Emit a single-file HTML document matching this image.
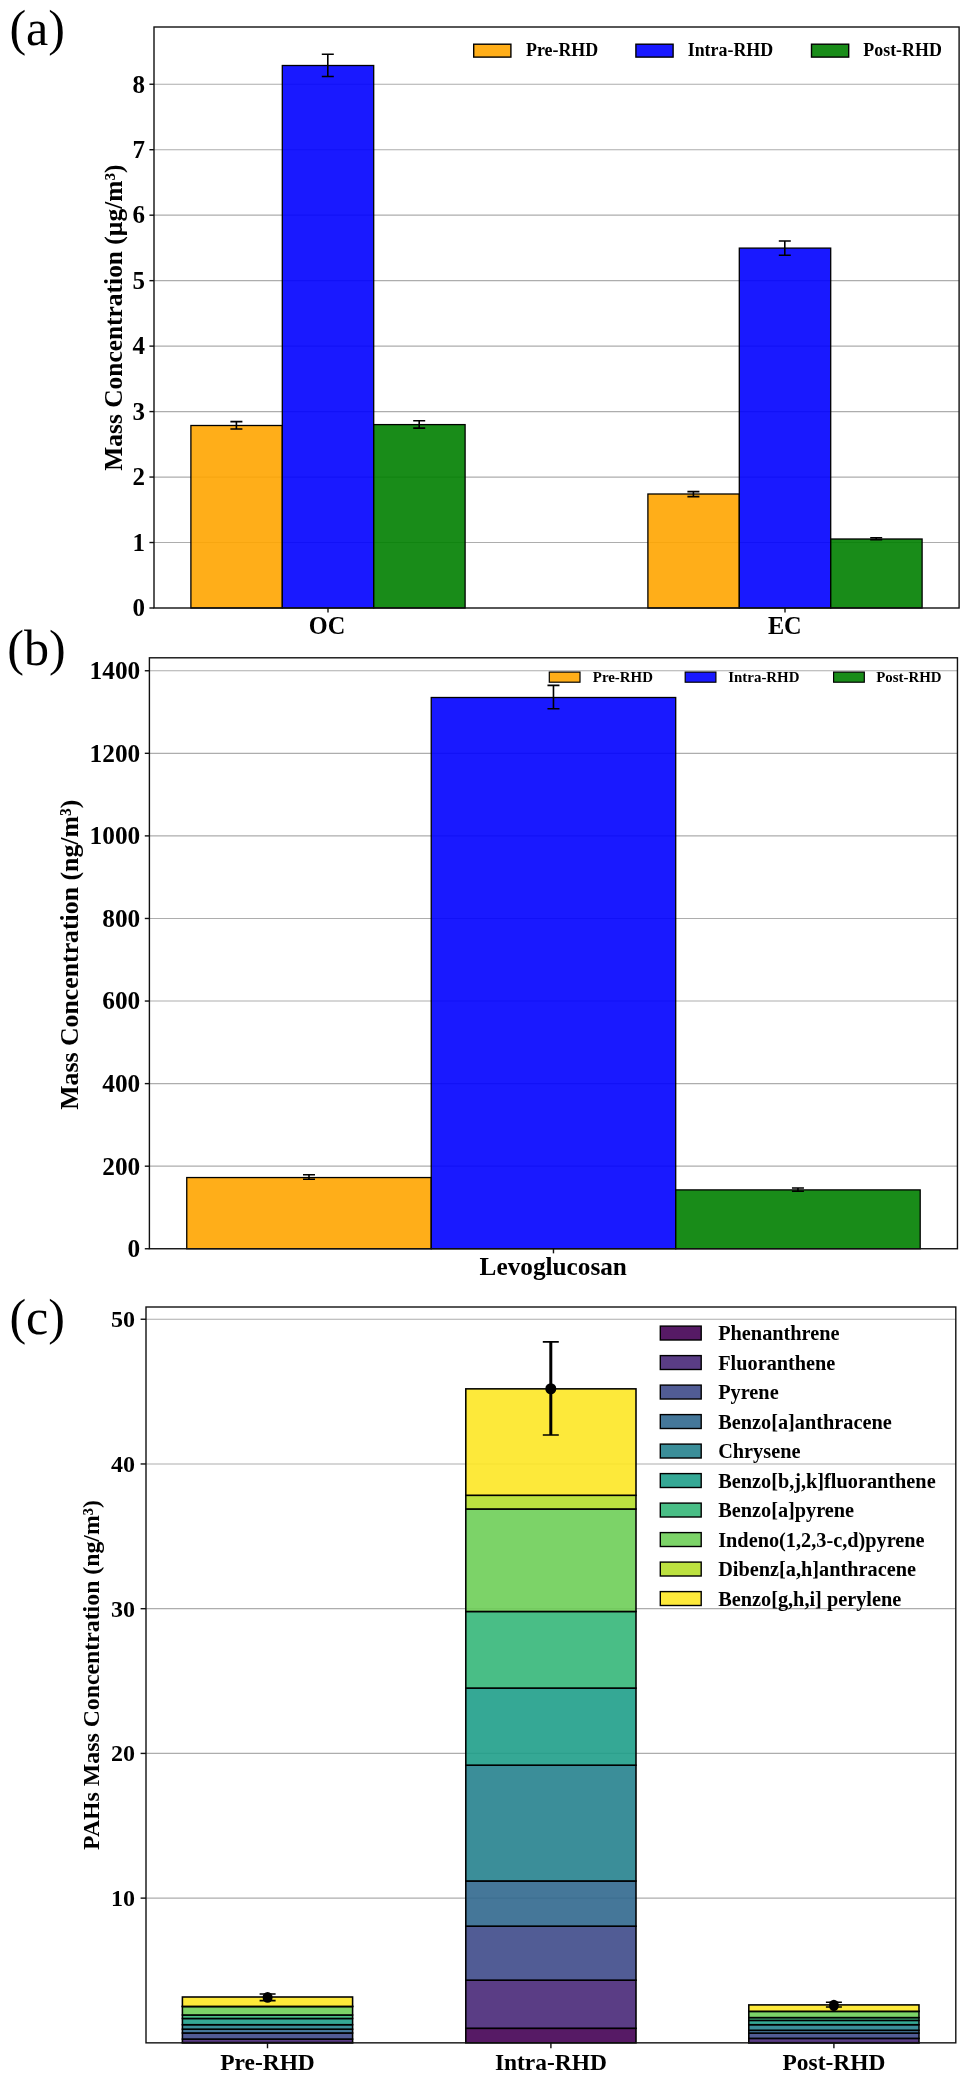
<!DOCTYPE html>
<html><head><meta charset="utf-8"><title>Figure</title>
<style>
html,body{margin:0;padding:0;background:#fff;}
body{width:968px;height:2080px;overflow:hidden;}
svg{display:block;will-change:transform;}
svg text{font-family:'Liberation Serif', serif;fill:#000;}
</style></head><body>
<svg width="968" height="2080" viewBox="0 0 968 2080">
<rect x="0" y="0" width="968" height="2080" fill="#fff"/>
<line x1="154.0" x2="959.1" y1="542.53" y2="542.53" stroke="#adadad" stroke-width="1.15"/>
<line x1="154.0" x2="959.1" y1="477.06" y2="477.06" stroke="#adadad" stroke-width="1.15"/>
<line x1="154.0" x2="959.1" y1="411.59" y2="411.59" stroke="#adadad" stroke-width="1.15"/>
<line x1="154.0" x2="959.1" y1="346.12" y2="346.12" stroke="#adadad" stroke-width="1.15"/>
<line x1="154.0" x2="959.1" y1="280.65" y2="280.65" stroke="#adadad" stroke-width="1.15"/>
<line x1="154.0" x2="959.1" y1="215.18" y2="215.18" stroke="#adadad" stroke-width="1.15"/>
<line x1="154.0" x2="959.1" y1="149.71" y2="149.71" stroke="#adadad" stroke-width="1.15"/>
<line x1="154.0" x2="959.1" y1="84.24" y2="84.24" stroke="#adadad" stroke-width="1.15"/>
<rect x="190.90" y="425.50" width="91.40" height="182.50" fill="#ffa500" fill-opacity="0.9" stroke="#000" stroke-width="1.3"/>
<rect x="282.30" y="65.50" width="91.40" height="542.50" fill="#0000ff" fill-opacity="0.9" stroke="#000" stroke-width="1.3"/>
<rect x="373.70" y="424.60" width="91.40" height="183.40" fill="#008000" fill-opacity="0.9" stroke="#000" stroke-width="1.3"/>
<path d="M236.40 421.60V429.00M230.40 421.60H242.40M230.40 429.00H242.40" stroke="#000" stroke-width="1.6" fill="none"/>
<path d="M327.80 54.20V76.50M321.80 54.20H333.80M321.80 76.50H333.80" stroke="#000" stroke-width="1.6" fill="none"/>
<path d="M419.20 420.70V428.10M413.20 420.70H425.20M413.20 428.10H425.20" stroke="#000" stroke-width="1.6" fill="none"/>
<rect x="647.90" y="494.00" width="91.40" height="114.00" fill="#ffa500" fill-opacity="0.9" stroke="#000" stroke-width="1.3"/>
<rect x="739.30" y="248.10" width="91.40" height="359.90" fill="#0000ff" fill-opacity="0.9" stroke="#000" stroke-width="1.3"/>
<rect x="830.70" y="539.00" width="91.40" height="69.00" fill="#008000" fill-opacity="0.9" stroke="#000" stroke-width="1.3"/>
<path d="M693.40 491.60V496.60M687.40 491.60H699.40M687.40 496.60H699.40" stroke="#000" stroke-width="1.6" fill="none"/>
<path d="M784.80 241.00V255.30M778.80 241.00H790.80M778.80 255.30H790.80" stroke="#000" stroke-width="1.6" fill="none"/>
<path d="M876.20 537.80V539.80M870.20 537.80H882.20M870.20 539.80H882.20" stroke="#000" stroke-width="1.6" fill="none"/>
<rect x="154.0" y="27.0" width="805.10" height="581.00" fill="none" stroke="#111" stroke-width="1.4"/>
<line x1="149.4" x2="154.0" y1="608.00" y2="608.00" stroke="#111" stroke-width="1.4"/>
<text x="144.90" y="616.30" font-size="25" font-weight="bold" text-anchor="end" >0</text>
<line x1="149.4" x2="154.0" y1="542.53" y2="542.53" stroke="#111" stroke-width="1.4"/>
<text x="144.90" y="550.83" font-size="25" font-weight="bold" text-anchor="end" >1</text>
<line x1="149.4" x2="154.0" y1="477.06" y2="477.06" stroke="#111" stroke-width="1.4"/>
<text x="144.90" y="485.36" font-size="25" font-weight="bold" text-anchor="end" >2</text>
<line x1="149.4" x2="154.0" y1="411.59" y2="411.59" stroke="#111" stroke-width="1.4"/>
<text x="144.90" y="419.89" font-size="25" font-weight="bold" text-anchor="end" >3</text>
<line x1="149.4" x2="154.0" y1="346.12" y2="346.12" stroke="#111" stroke-width="1.4"/>
<text x="144.90" y="354.42" font-size="25" font-weight="bold" text-anchor="end" >4</text>
<line x1="149.4" x2="154.0" y1="280.65" y2="280.65" stroke="#111" stroke-width="1.4"/>
<text x="144.90" y="288.95" font-size="25" font-weight="bold" text-anchor="end" >5</text>
<line x1="149.4" x2="154.0" y1="215.18" y2="215.18" stroke="#111" stroke-width="1.4"/>
<text x="144.90" y="223.48" font-size="25" font-weight="bold" text-anchor="end" >6</text>
<line x1="149.4" x2="154.0" y1="149.71" y2="149.71" stroke="#111" stroke-width="1.4"/>
<text x="144.90" y="158.01" font-size="25" font-weight="bold" text-anchor="end" >7</text>
<line x1="149.4" x2="154.0" y1="84.24" y2="84.24" stroke="#111" stroke-width="1.4"/>
<text x="144.90" y="92.54" font-size="25" font-weight="bold" text-anchor="end" >8</text>
<line x1="328.00" x2="328.00" y1="608.0" y2="612.6" stroke="#111" stroke-width="1.4"/>
<text x="327.10" y="634.00" font-size="24.3" font-weight="bold" text-anchor="middle" >OC</text>
<line x1="785.00" x2="785.00" y1="608.0" y2="612.6" stroke="#111" stroke-width="1.4"/>
<text x="784.80" y="634.00" font-size="24.3" font-weight="bold" text-anchor="middle" >EC</text>
<text transform="translate(122.00 317.60) rotate(-90)" font-size="25.45" font-weight="bold" text-anchor="middle" >Mass Concentration (µg/m³)</text>
<rect x="473.7" y="44.2" width="37.2" height="12.9" fill="#ffa500" fill-opacity="0.9" stroke="#000" stroke-width="1.4"/>
<text x="526.00" y="56.20" font-size="17.9" font-weight="bold" text-anchor="start" >Pre-RHD</text>
<rect x="635.9" y="44.2" width="37.2" height="12.9" fill="#0000ff" fill-opacity="0.9" stroke="#000" stroke-width="1.4"/>
<text x="687.70" y="56.20" font-size="17.9" font-weight="bold" text-anchor="start" >Intra-RHD</text>
<rect x="811.5" y="44.2" width="37.2" height="12.9" fill="#008000" fill-opacity="0.9" stroke="#000" stroke-width="1.4"/>
<text x="863.30" y="56.20" font-size="17.9" font-weight="bold" text-anchor="start" >Post-RHD</text>
<text x="9.40" y="45.20" font-size="51" font-weight="normal" text-anchor="start" textLength="55.6" lengthAdjust="spacingAndGlyphs">(a)</text>
<line x1="149.4" x2="957.45" y1="1166.18" y2="1166.18" stroke="#adadad" stroke-width="1.15"/>
<line x1="149.4" x2="957.45" y1="1083.61" y2="1083.61" stroke="#adadad" stroke-width="1.15"/>
<line x1="149.4" x2="957.45" y1="1001.04" y2="1001.04" stroke="#adadad" stroke-width="1.15"/>
<line x1="149.4" x2="957.45" y1="918.47" y2="918.47" stroke="#adadad" stroke-width="1.15"/>
<line x1="149.4" x2="957.45" y1="835.89" y2="835.89" stroke="#adadad" stroke-width="1.15"/>
<line x1="149.4" x2="957.45" y1="753.32" y2="753.32" stroke="#adadad" stroke-width="1.15"/>
<line x1="149.4" x2="957.45" y1="670.75" y2="670.75" stroke="#adadad" stroke-width="1.15"/>
<rect x="186.75" y="1177.55" width="244.48" height="71.20" fill="#ffa500" fill-opacity="0.9" stroke="#000" stroke-width="1.3"/>
<rect x="431.23" y="697.50" width="244.48" height="551.25" fill="#0000ff" fill-opacity="0.9" stroke="#000" stroke-width="1.3"/>
<rect x="675.71" y="1189.90" width="244.48" height="58.85" fill="#008000" fill-opacity="0.9" stroke="#000" stroke-width="1.3"/>
<path d="M308.99 1174.80V1179.20M302.99 1174.80H314.99M302.99 1179.20H314.99" stroke="#000" stroke-width="1.6" fill="none"/>
<path d="M553.47 685.40V708.80M547.47 685.40H559.47M547.47 708.80H559.47" stroke="#000" stroke-width="1.6" fill="none"/>
<path d="M797.95 1188.00V1191.20M791.95 1188.00H803.95M791.95 1191.20H803.95" stroke="#000" stroke-width="1.6" fill="none"/>
<rect x="149.4" y="657.8" width="808.05" height="590.95" fill="none" stroke="#111" stroke-width="1.4"/>
<line x1="144.8" x2="149.4" y1="1248.75" y2="1248.75" stroke="#111" stroke-width="1.4"/>
<text x="140.20" y="1257.15" font-size="25.3" font-weight="bold" text-anchor="end" >0</text>
<line x1="144.8" x2="149.4" y1="1166.18" y2="1166.18" stroke="#111" stroke-width="1.4"/>
<text x="140.20" y="1174.58" font-size="25.3" font-weight="bold" text-anchor="end" >200</text>
<line x1="144.8" x2="149.4" y1="1083.61" y2="1083.61" stroke="#111" stroke-width="1.4"/>
<text x="140.20" y="1092.01" font-size="25.3" font-weight="bold" text-anchor="end" >400</text>
<line x1="144.8" x2="149.4" y1="1001.04" y2="1001.04" stroke="#111" stroke-width="1.4"/>
<text x="140.20" y="1009.44" font-size="25.3" font-weight="bold" text-anchor="end" >600</text>
<line x1="144.8" x2="149.4" y1="918.47" y2="918.47" stroke="#111" stroke-width="1.4"/>
<text x="140.20" y="926.87" font-size="25.3" font-weight="bold" text-anchor="end" >800</text>
<line x1="144.8" x2="149.4" y1="835.89" y2="835.89" stroke="#111" stroke-width="1.4"/>
<text x="140.20" y="844.29" font-size="25.3" font-weight="bold" text-anchor="end" >1000</text>
<line x1="144.8" x2="149.4" y1="753.32" y2="753.32" stroke="#111" stroke-width="1.4"/>
<text x="140.20" y="761.72" font-size="25.3" font-weight="bold" text-anchor="end" >1200</text>
<line x1="144.8" x2="149.4" y1="670.75" y2="670.75" stroke="#111" stroke-width="1.4"/>
<text x="140.20" y="679.15" font-size="25.3" font-weight="bold" text-anchor="end" >1400</text>
<line x1="553.47" x2="553.47" y1="1248.75" y2="1253.35" stroke="#111" stroke-width="1.4"/>
<text x="553.27" y="1275.00" font-size="25.25" font-weight="bold" text-anchor="middle" >Levoglucosan</text>
<text transform="translate(77.70 954.80) rotate(-90)" font-size="25.8" font-weight="bold" text-anchor="middle" >Mass Concentration (ng/m³)</text>
<rect x="549.3000000000001" y="672.1" width="30.7" height="10.1" fill="#ffa500" fill-opacity="0.9" stroke="#000" stroke-width="1.2"/>
<text x="592.80" y="682.30" font-size="14.9" font-weight="bold" text-anchor="start" >Pre-RHD</text>
<rect x="685.2" y="672.1" width="30.7" height="10.1" fill="#0000ff" fill-opacity="0.9" stroke="#000" stroke-width="1.2"/>
<text x="728.30" y="682.30" font-size="14.9" font-weight="bold" text-anchor="start" >Intra-RHD</text>
<rect x="833.6" y="672.1" width="30.7" height="10.1" fill="#008000" fill-opacity="0.9" stroke="#000" stroke-width="1.2"/>
<text x="876.20" y="682.30" font-size="14.9" font-weight="bold" text-anchor="start" >Post-RHD</text>
<text x="7.30" y="664.50" font-size="51" font-weight="normal" text-anchor="start" textLength="58.4" lengthAdjust="spacingAndGlyphs">(b)</text>
<line x1="146.0" x2="955.8" y1="1898.13" y2="1898.13" stroke="#adadad" stroke-width="1.15"/>
<line x1="146.0" x2="955.8" y1="1753.41" y2="1753.41" stroke="#adadad" stroke-width="1.15"/>
<line x1="146.0" x2="955.8" y1="1608.69" y2="1608.69" stroke="#adadad" stroke-width="1.15"/>
<line x1="146.0" x2="955.8" y1="1463.97" y2="1463.97" stroke="#adadad" stroke-width="1.15"/>
<line x1="146.0" x2="955.8" y1="1319.25" y2="1319.25" stroke="#adadad" stroke-width="1.15"/>
<rect x="182.40" y="2042.60" width="170.20" height="0.25" fill="#440154" fill-opacity="0.9" stroke="#000" stroke-width="1.55"/>
<rect x="182.40" y="2039.10" width="170.20" height="3.50" fill="#482878" fill-opacity="0.9" stroke="#000" stroke-width="1.55"/>
<rect x="182.40" y="2033.00" width="170.20" height="6.10" fill="#3e4a89" fill-opacity="0.9" stroke="#000" stroke-width="1.55"/>
<rect x="182.40" y="2029.20" width="170.20" height="3.80" fill="#31688e" fill-opacity="0.9" stroke="#000" stroke-width="1.55"/>
<rect x="182.40" y="2024.70" width="170.20" height="4.50" fill="#26828e" fill-opacity="0.9" stroke="#000" stroke-width="1.55"/>
<rect x="182.40" y="2018.50" width="170.20" height="6.20" fill="#1f9e89" fill-opacity="0.9" stroke="#000" stroke-width="1.55"/>
<rect x="182.40" y="2015.00" width="170.20" height="3.50" fill="#35b779" fill-opacity="0.9" stroke="#000" stroke-width="1.55"/>
<rect x="182.40" y="2006.50" width="170.20" height="8.50" fill="#6ece58" fill-opacity="0.9" stroke="#000" stroke-width="1.55"/>
<rect x="182.40" y="2006.40" width="170.20" height="0.10" fill="#b5de2b" fill-opacity="0.9" stroke="#000" stroke-width="1.55"/>
<rect x="182.40" y="1997.00" width="170.20" height="9.40" fill="#fde725" fill-opacity="0.9" stroke="#000" stroke-width="1.55"/>
<rect x="465.80" y="2028.30" width="170.20" height="14.55" fill="#440154" fill-opacity="0.9" stroke="#000" stroke-width="1.55"/>
<rect x="465.80" y="1980.20" width="170.20" height="48.10" fill="#482878" fill-opacity="0.9" stroke="#000" stroke-width="1.55"/>
<rect x="465.80" y="1926.20" width="170.20" height="54.00" fill="#3e4a89" fill-opacity="0.9" stroke="#000" stroke-width="1.55"/>
<rect x="465.80" y="1881.00" width="170.20" height="45.20" fill="#31688e" fill-opacity="0.9" stroke="#000" stroke-width="1.55"/>
<rect x="465.80" y="1765.20" width="170.20" height="115.80" fill="#26828e" fill-opacity="0.9" stroke="#000" stroke-width="1.55"/>
<rect x="465.80" y="1688.10" width="170.20" height="77.10" fill="#1f9e89" fill-opacity="0.9" stroke="#000" stroke-width="1.55"/>
<rect x="465.80" y="1611.50" width="170.20" height="76.60" fill="#35b779" fill-opacity="0.9" stroke="#000" stroke-width="1.55"/>
<rect x="465.80" y="1509.00" width="170.20" height="102.50" fill="#6ece58" fill-opacity="0.9" stroke="#000" stroke-width="1.55"/>
<rect x="465.80" y="1495.30" width="170.20" height="13.70" fill="#b5de2b" fill-opacity="0.9" stroke="#000" stroke-width="1.55"/>
<rect x="465.80" y="1388.85" width="170.20" height="106.45" fill="#fde725" fill-opacity="0.9" stroke="#000" stroke-width="1.55"/>
<rect x="748.80" y="2042.70" width="170.20" height="0.15" fill="#440154" fill-opacity="0.9" stroke="#000" stroke-width="1.55"/>
<rect x="748.80" y="2038.40" width="170.20" height="4.30" fill="#482878" fill-opacity="0.9" stroke="#000" stroke-width="1.55"/>
<rect x="748.80" y="2033.10" width="170.20" height="5.30" fill="#3e4a89" fill-opacity="0.9" stroke="#000" stroke-width="1.55"/>
<rect x="748.80" y="2030.30" width="170.20" height="2.80" fill="#31688e" fill-opacity="0.9" stroke="#000" stroke-width="1.55"/>
<rect x="748.80" y="2024.70" width="170.20" height="5.60" fill="#26828e" fill-opacity="0.9" stroke="#000" stroke-width="1.55"/>
<rect x="748.80" y="2020.40" width="170.20" height="4.30" fill="#1f9e89" fill-opacity="0.9" stroke="#000" stroke-width="1.55"/>
<rect x="748.80" y="2017.60" width="170.20" height="2.80" fill="#35b779" fill-opacity="0.9" stroke="#000" stroke-width="1.55"/>
<rect x="748.80" y="2011.40" width="170.20" height="6.20" fill="#6ece58" fill-opacity="0.9" stroke="#000" stroke-width="1.55"/>
<rect x="748.80" y="2011.30" width="170.20" height="0.10" fill="#b5de2b" fill-opacity="0.9" stroke="#000" stroke-width="1.55"/>
<rect x="748.80" y="2004.90" width="170.20" height="6.40" fill="#fde725" fill-opacity="0.9" stroke="#000" stroke-width="1.55"/>
<path d="M267.60 1994.00V2000.60" stroke="#000" stroke-width="3.0" fill="none"/>
<path d="M259.60 1994.00H275.60M259.60 2000.60H275.60" stroke="#000" stroke-width="1.6" fill="none"/>
<ellipse cx="267.60" cy="1997.40" rx="5.0" ry="5.4" fill="#000"/>
<path d="M550.80 1341.90V1434.95" stroke="#000" stroke-width="3.0" fill="none"/>
<path d="M542.80 1341.90H558.80M542.80 1434.95H558.80" stroke="#000" stroke-width="1.6" fill="none"/>
<ellipse cx="550.80" cy="1388.75" rx="5.5" ry="5.5" fill="#000"/>
<path d="M833.90 2002.30V2007.00" stroke="#000" stroke-width="3.0" fill="none"/>
<path d="M825.90 2002.30H841.90M825.90 2007.00H841.90" stroke="#000" stroke-width="1.6" fill="none"/>
<ellipse cx="833.90" cy="2005.40" rx="4.9" ry="5.7" fill="#000"/>
<rect x="146.0" y="1307.0" width="809.80" height="735.85" fill="none" stroke="#111" stroke-width="1.4"/>
<line x1="140.6" x2="146.0" y1="1898.13" y2="1898.13" stroke="#111" stroke-width="1.4"/>
<text x="134.90" y="1906.13" font-size="24.0" font-weight="bold" text-anchor="end" >10</text>
<line x1="140.6" x2="146.0" y1="1753.41" y2="1753.41" stroke="#111" stroke-width="1.4"/>
<text x="134.90" y="1761.41" font-size="24.0" font-weight="bold" text-anchor="end" >20</text>
<line x1="140.6" x2="146.0" y1="1608.69" y2="1608.69" stroke="#111" stroke-width="1.4"/>
<text x="134.90" y="1616.69" font-size="24.0" font-weight="bold" text-anchor="end" >30</text>
<line x1="140.6" x2="146.0" y1="1463.97" y2="1463.97" stroke="#111" stroke-width="1.4"/>
<text x="134.90" y="1471.97" font-size="24.0" font-weight="bold" text-anchor="end" >40</text>
<line x1="140.6" x2="146.0" y1="1319.25" y2="1319.25" stroke="#111" stroke-width="1.4"/>
<text x="134.90" y="1327.25" font-size="24.0" font-weight="bold" text-anchor="end" >50</text>
<line x1="267.50" x2="267.50" y1="2042.85" y2="2048.25" stroke="#111" stroke-width="1.4"/>
<text x="267.50" y="2069.80" font-size="23.45" font-weight="bold" text-anchor="middle" >Pre-RHD</text>
<line x1="550.90" x2="550.90" y1="2042.85" y2="2048.25" stroke="#111" stroke-width="1.4"/>
<text x="550.90" y="2069.80" font-size="23.45" font-weight="bold" text-anchor="middle" >Intra-RHD</text>
<line x1="833.90" x2="833.90" y1="2042.85" y2="2048.25" stroke="#111" stroke-width="1.4"/>
<text x="833.90" y="2069.80" font-size="23.45" font-weight="bold" text-anchor="middle" >Post-RHD</text>
<text transform="translate(99.00 1675.00) rotate(-90)" font-size="23.8" font-weight="bold" text-anchor="middle" >PAHs Mass Concentration (ng/m³)</text>
<rect x="660.3" y="1326.10" width="40.9" height="13.9" fill="#440154" fill-opacity="0.9" stroke="#000" stroke-width="1.4"/>
<text x="718.20" y="1340.40" font-size="20.3" font-weight="bold" text-anchor="start" >Phenanthrene</text>
<rect x="660.3" y="1355.60" width="40.9" height="13.9" fill="#482878" fill-opacity="0.9" stroke="#000" stroke-width="1.4"/>
<text x="718.20" y="1369.90" font-size="20.3" font-weight="bold" text-anchor="start" >Fluoranthene</text>
<rect x="660.3" y="1385.10" width="40.9" height="13.9" fill="#3e4a89" fill-opacity="0.9" stroke="#000" stroke-width="1.4"/>
<text x="718.20" y="1399.40" font-size="20.3" font-weight="bold" text-anchor="start" >Pyrene</text>
<rect x="660.3" y="1414.60" width="40.9" height="13.9" fill="#31688e" fill-opacity="0.9" stroke="#000" stroke-width="1.4"/>
<text x="718.20" y="1428.90" font-size="20.3" font-weight="bold" text-anchor="start" >Benzo[a]anthracene</text>
<rect x="660.3" y="1444.10" width="40.9" height="13.9" fill="#26828e" fill-opacity="0.9" stroke="#000" stroke-width="1.4"/>
<text x="718.20" y="1458.40" font-size="20.3" font-weight="bold" text-anchor="start" >Chrysene</text>
<rect x="660.3" y="1473.60" width="40.9" height="13.9" fill="#1f9e89" fill-opacity="0.9" stroke="#000" stroke-width="1.4"/>
<text x="718.20" y="1487.90" font-size="20.3" font-weight="bold" text-anchor="start" >Benzo[b,j,k]fluoranthene</text>
<rect x="660.3" y="1503.10" width="40.9" height="13.9" fill="#35b779" fill-opacity="0.9" stroke="#000" stroke-width="1.4"/>
<text x="718.20" y="1517.40" font-size="20.3" font-weight="bold" text-anchor="start" >Benzo[a]pyrene</text>
<rect x="660.3" y="1532.60" width="40.9" height="13.9" fill="#6ece58" fill-opacity="0.9" stroke="#000" stroke-width="1.4"/>
<text x="718.20" y="1546.90" font-size="20.3" font-weight="bold" text-anchor="start" >Indeno(1,2,3-c,d)pyrene</text>
<rect x="660.3" y="1562.10" width="40.9" height="13.9" fill="#b5de2b" fill-opacity="0.9" stroke="#000" stroke-width="1.4"/>
<text x="718.20" y="1576.40" font-size="20.3" font-weight="bold" text-anchor="start" >Dibenz[a,h]anthracene</text>
<rect x="660.3" y="1591.60" width="40.9" height="13.9" fill="#fde725" fill-opacity="0.9" stroke="#000" stroke-width="1.4"/>
<text x="718.20" y="1605.90" font-size="20.3" font-weight="bold" text-anchor="start" >Benzo[g,h,i] perylene</text>
<text x="9.40" y="1333.80" font-size="51" font-weight="normal" text-anchor="start" textLength="55.6" lengthAdjust="spacingAndGlyphs">(c)</text>
</svg>
</body></html>
